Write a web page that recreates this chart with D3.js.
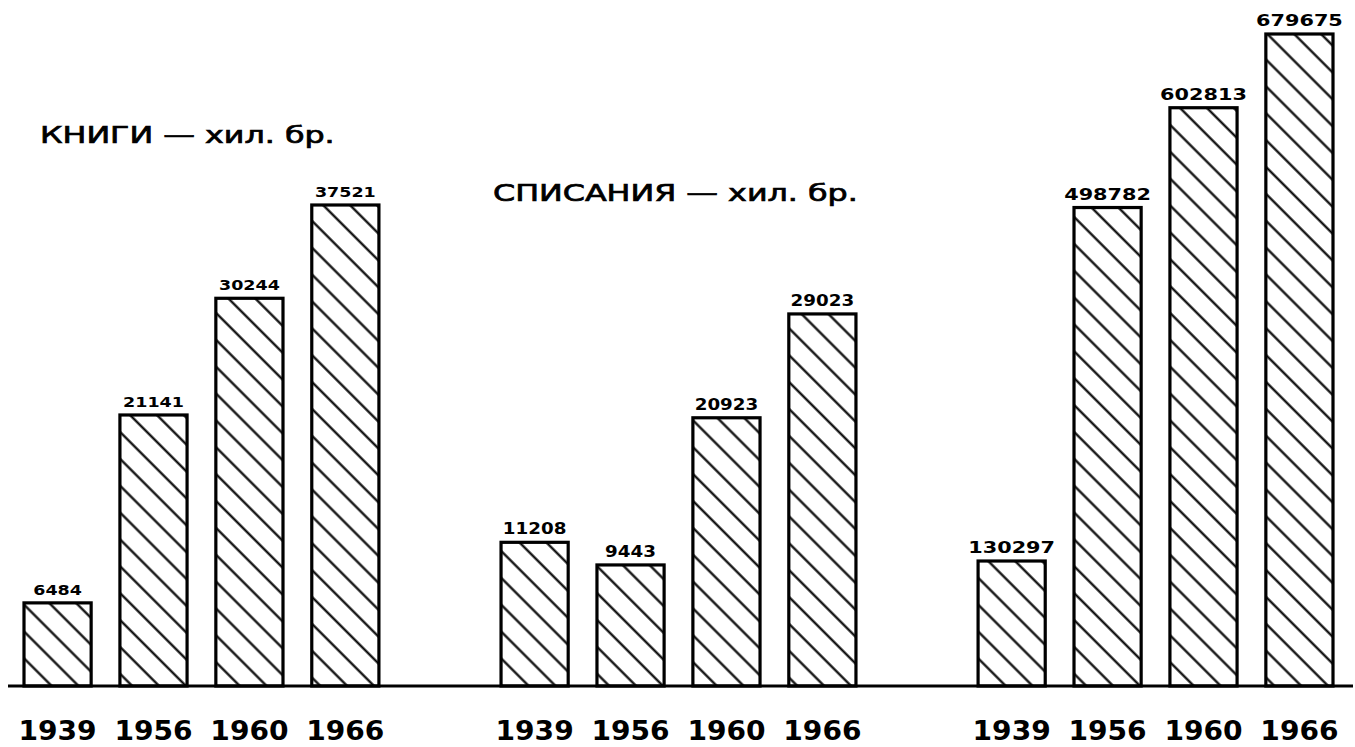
<!DOCTYPE html>
<html>
<head>
<meta charset="utf-8">
<script src="https://cdn.jsdelivr.net/npm/d3@7"></script>
<style>
  html, body { margin: 0; padding: 0; background: #fff; }
  text { font-family: "DejaVu Sans", sans-serif; fill: #000; }
</style>
</head>
<body>
<div id="chart"></div>
<script>
(function() {

// data
var years = ['1939', '1956', '1960', '1966'];
var groups = ['knigi', 'spisania', 'vestnici'];
var titles = ['КНИГИ — хил. бр.', 'СПИСАНИЯ — хил. бр.', ''];
var knigi = [6484, 21141, 30244, 37521];
var spisania = [11208, 9443, 20923, 29023];
var vestnici = [130297, 498782, 602813, 679675];
var series = [knigi, spisania, vestnici];

var width = 1355, height = 747;
var baseY = 686;

var svg = d3.select('#chart')
    .append('svg')
    .attr('width', width)
    .attr('height', height);

// hatch pattern  "\\\\"
svg.append('defs').append('pattern')
    .attr('id', 'hatch')
    .attr('patternUnits', 'userSpaceOnUse')
    .attr('width', 19)
    .attr('height', 19)
    .attr('patternTransform', 'rotate(-45)')
  .append('line')
    .attr('x1', 9.5).attr('y1', -1)
    .attr('x2', 9.5).attr('y2', 20)
    .attr('stroke', '#000')
    .attr('stroke-width', 2.2);

var xOuter = d3.scaleBand()
    .domain(groups)
    .range([24, 1333])
    .paddingInner(0.256);

var xInner = d3.scaleBand()
    .domain(years)
    .range([0, xOuter.bandwidth()])
    .paddingInner(0.3);

var ySmall = d3.scaleLinear().domain([0, 37521]).range([baseY, 205]);
var yBig = d3.scaleLinear().domain([0, 679675]).range([baseY, 34]);
var yScales = [ySmall, ySmall, yBig];
var labelSize = [14, 15, 16];
var labelScale = [1.25, 1.22, 1.3];

groups.forEach(function(gname, gi) {
  var g = svg.append('g')
      .attr('transform', 'translate(' + xOuter(gname) + ',0)');
  var y = yScales[gi];
  var data = series[gi].map(function(v, i) { return {year: years[i], value: v}; });

  g.selectAll('rect.bar')
      .data(data)
    .enter().append('rect')
      .attr('class', 'bar')
      .attr('x', function(d) { return xInner(d.year); })
      .attr('y', function(d) { return y(d.value); })
      .attr('width', xInner.bandwidth())
      .attr('height', function(d) { return baseY - y(d.value); })
      .attr('fill', 'url(#hatch)')
      .attr('stroke', '#000')
      .attr('stroke-width', 3.2);

  g.selectAll('text.val')
      .data(data)
    .enter().append('text')
      .attr('class', 'val')
      .attr('transform', function(d) {
        return 'translate(' + (xInner(d.year) + xInner.bandwidth() / 2) + ',' + (y(d.value) - 8) + ') scale(' + labelScale[gi] + ',1)';
      })
      .attr('text-anchor', 'middle')
      .attr('font-size', labelSize[gi])
      .attr('font-weight', 'bold')
      .text(function(d) { return d.value; });

  g.selectAll('text.year')
      .data(data)
    .enter().append('text')
      .attr('class', 'year')
      .attr('transform', function(d) {
        return 'translate(' + (xInner(d.year) + xInner.bandwidth() / 2) + ',740) scale(1.08,1)';
      })
      .attr('text-anchor', 'middle')
      .attr('font-size', 26)
      .attr('font-weight', 'bold')
      .text(function(d) { return d.year; });
});

// titles
svg.append('text')
    .attr('transform', 'translate(40,143) scale(1.38,1)')
    .attr('font-size', 23)
    .attr('stroke', '#000')
    .attr('stroke-width', 0.7)
    .text(titles[0]);

svg.append('text')
    .attr('transform', 'translate(493,201) scale(1.38,1)')
    .attr('font-size', 23)
    .attr('stroke', '#000')
    .attr('stroke-width', 0.7)
    .text(titles[1]);

// baseline
svg.append('line')
    .attr('x1', 8).attr('x2', 1353)
    .attr('y1', baseY).attr('y2', baseY)
    .attr('stroke', '#000')
    .attr('stroke-width', 3.2);

})();
</script>
</body>
</html>
